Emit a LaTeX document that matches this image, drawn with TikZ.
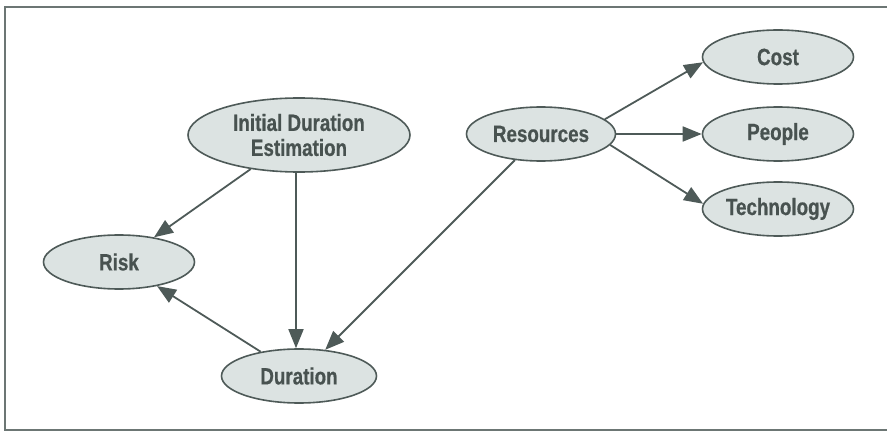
\documentclass[tikz,border=0pt]{standalone}
\usepackage{fontspec}
\setmainfont{Liberation Sans}[FakeStretch=0.8, BoldFeatures={FakeBold=0.6}]
\usetikzlibrary{shapes.geometric,arrows.meta}
\definecolor{edgegray}{HTML}{4E5A58}
\definecolor{fillgray}{HTML}{DCE3E2}
\definecolor{textgray}{HTML}{485250}
\definecolor{framegray}{HTML}{6C7674}
\tikzset{
  x=1pt, y=-1pt,
  bubble/.style={ellipse, draw=edgegray, line width=1.6pt, fill=fillgray,
    inner sep=0pt, minimum width=151pt, minimum height=54pt,
    font=\fontsize{23.5}{25}\selectfont\bfseries, text=textgray, align=center},
  link/.style={draw=edgegray, line width=1.8pt,
    -{Triangle[length=19pt,width=15pt]}},
}
\begin{document}
\begin{tikzpicture}
  \useasboundingbox (0,0) rectangle (887,433);
  \begin{scope}
    \clip (0,0) rectangle (887,433);
    \draw[framegray, line width=2.2pt] (5,7) rectangle (895,430);
  \end{scope}

  \node[bubble, minimum width=222pt, minimum height=74pt] (ide) at (299,135) {Initial Duration\\Estimation};
  \node[bubble] (risk) at (119,262) {Risk};
  \node[bubble, minimum width=155pt] (dur) at (299,376) {Duration};
  \node[bubble, minimum width=149pt] (res) at (541,134) {Resources};
  \node[bubble] (cost) at (778,57) {Cost};
  \node[bubble] (people) at (778,134) {People};
  \node[bubble] (tech) at (778,209) {Technology};

  \draw[link] (ide) -- (risk);
  \draw[link] ([xshift=-3pt]ide.south) -- ([xshift=-3pt]dur.north);
  \draw[link] (dur) -- (risk);
  \draw[link] (res) -- (dur);
  \draw[link] (res.13) -- (cost.184);
  \draw[link] (res.east) -- (people.west);
  \draw[link] (res.-9) -- (tech.176);
\end{tikzpicture}
\end{document}
